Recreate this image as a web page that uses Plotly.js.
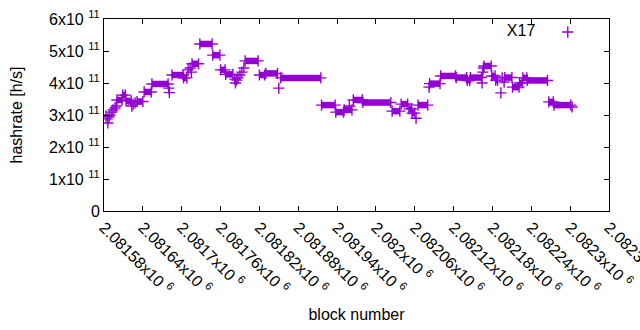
<!DOCTYPE html>
<html>
<head>
<meta charset="utf-8">
<script src="https://cdn.plot.ly/plotly-3.0.1.min.js"></script>
<style>html,body{margin:0;padding:0;background:#fff;overflow:hidden;}#chart{width:640px;height:330px;}</style>
</head>
<body>
<div id="chart"></div>
<script>
// Runs of consecutive blocks that share the same hashrate estimate (start block, end block, value in units of 1e11 h/s)
const runStart = [2081583,2081585,2081586,2081588,2081589,2081592,2081594,2081597,2081599,2081600,2081609,2081614,2081623,2081625,2081628,2081631,2081642,2081654,2081680,2081681,2081685,2081703,2081710,2081713,2081715,2081716,2081728,2081748,2081760,2081768,2081782,2081783,2081785,2081787,2081790,2081793,2081796,2081798,2081820,2081830,2081850,2081853,2081916,2081938,2081951,2081959,2081965,2081980,2082025,2082039,2082051,2082056,2082062,2082065,2082082,2082083,2082100,2082124,2082141,2082146,2082164,2082165,2082166,2082167,2082179,2082185,2082193,2082195,2082198,2082199,2082211,2082222,2082227,2082234,2082267,2082275,2082303];
const runEnd   = [2081583,2081585,2081586,2081588,2081589,2081592,2081594,2081597,2081599,2081608,2081613,2081622,2081623,2081625,2081628,2081640,2081653,2081679,2081680,2081681,2081702,2081708,2081710,2081713,2081715,2081726,2081747,2081759,2081767,2081779,2081782,2081783,2081785,2081787,2081790,2081793,2081796,2081818,2081828,2081848,2081850,2081915,2081937,2081950,2081963,2081959,2081979,2082023,2082037,2082049,2082055,2082060,2082062,2082080,2082082,2082099,2082123,2082140,2082145,2082163,2082164,2082165,2082166,2082178,2082184,2082188,2082193,2082195,2082198,2082210,2082221,2082226,2082233,2082265,2082274,2082301,2082303];
const runValue = [2.97,2.88,2.75,2.94,3.00,3.09,3.16,3.22,3.28,3.47,3.62,3.44,3.28,3.34,3.38,3.42,3.72,3.97,3.84,3.70,4.25,4.16,4.41,4.47,4.34,4.60,5.22,4.87,4.41,4.27,4.12,4.00,4.09,4.16,4.25,4.34,4.47,4.69,4.25,4.30,3.84,4.16,3.31,3.09,3.16,3.28,3.47,3.39,3.12,3.34,3.19,3.06,2.90,3.31,3.87,3.98,4.22,4.17,4.08,4.17,4.00,4.34,4.47,4.53,4.22,4.09,3.69,4.16,4.03,4.17,3.87,4.00,4.16,4.08,3.41,3.31,3.25];

const xTickVals = [2081580,2081640,2081700,2081760,2081820,2081880,2081940,2082000,2082060,2082120,2082180,2082240,2082300,2082360];
const xTickMant = ["2.08158","2.08164","2.0817","2.08176","2.08182","2.08188","2.08194","2.082","2.08206","2.08212","2.08218","2.08224","2.0823","2.08236"];
const yTickVals = [0,1e11,2e11,3e11,4e11,5e11,6e11];
const yTickText = ["0","1x10 <sup>11</sup>","2x10 <sup>11</sup>","3x10 <sup>11</sup>","4x10 <sup>11</sup>","5x10 <sup>11</sup>","6x10 <sup>11</sup>"];

const color = '#9400d3';
const lx = [], ly = [], mx = [], my = [];
for (let i = 0; i < runStart.length; i++) {
  const v = runValue[i] * 1e11;
  mx.push(runStart[i]); my.push(v);
  if (runEnd[i] !== runStart[i]) {
    mx.push(runEnd[i]); my.push(v);
    lx.push(runStart[i], runEnd[i], null); ly.push(v, v, null);
  }
}

const font = {family: '"Liberation Sans", Arial, sans-serif', size: 16, color: '#000'};

const traces = [
  {x: lx, y: ly, type: 'scatter', mode: 'lines', line: {color: color, width: 6.5}, showlegend: false, hoverinfo: 'skip', connectgaps: false},
  {x: mx, y: my, type: 'scatter', mode: 'markers', name: '', marker: {symbol: 'cross-thin', size: 8, line: {color: color, width: 1.4}, color: color}}
];

const layout = {
  width: 640, height: 330,
  margin: {l: 104, r: 31, t: 19, b: 119},
  paper_bgcolor: '#fff', plot_bgcolor: '#fff',
  font: font,
  showlegend: true,
  legend: {x: 0.968, xanchor: 'right', y: 1.02, yanchor: 'top', bgcolor: 'rgba(0,0,0,0)', font: font,
           title: {text: 'X17&nbsp;', side: 'left', font: font}},
  xaxis: {
    range: [2081580, 2082360], tickvals: xTickVals,
    ticktext: xTickMant.map(m => m + 'x10 <sup>6</sup>'),
    tickangle: 45, ticks: 'inside', ticklen: 5, tickcolor: '#000', tickwidth: 1,
    ticklabeloverflow: 'allow',
    showline: true, linecolor: '#000', linewidth: 1, mirror: 'allticks',
    showgrid: false, zeroline: false, tickfont: font,
    title: {text: 'block number', font: font, standoff: 12}
  },
  yaxis: {
    range: [0, 6e11], tickvals: yTickVals, ticktext: yTickText,
    ticks: 'inside', ticklen: 5, tickcolor: '#000', tickwidth: 1,
    showline: true, linecolor: '#000', linewidth: 1, mirror: 'allticks',
    showgrid: false, zeroline: false, tickfont: font,
    title: {text: 'hashrate [h/s]', font: font, standoff: 22}
  }
};

Plotly.newPlot('chart', traces, layout, {staticPlot: true, displayModeBar: false});
</script>
</body>
</html>
